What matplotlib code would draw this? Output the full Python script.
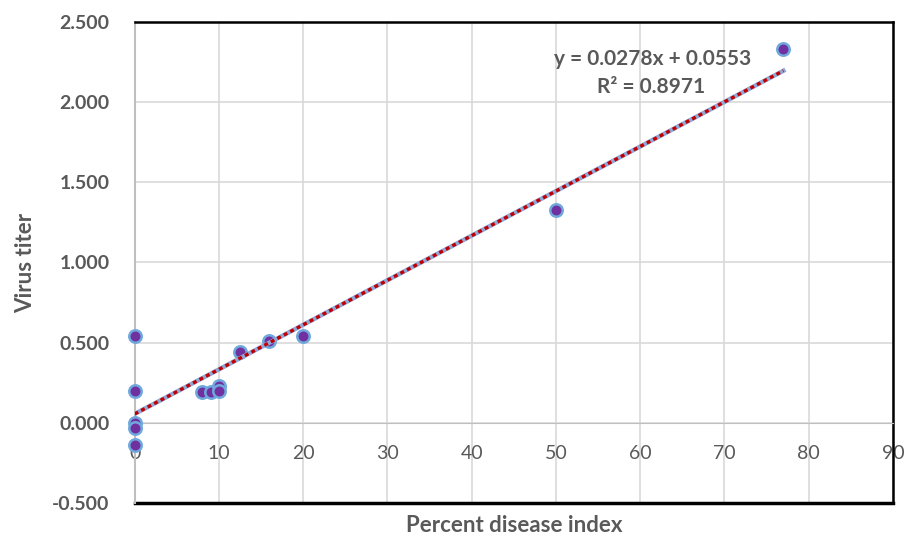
# plot.py
# Scatter of virus titer against percent disease index, with a linear trendline.

import matplotlib.pyplot as plt
import numpy as np

# data
disease_index = [0, 0, 0, 0, 0, 8, 9, 10, 10, 12.5, 16, 20, 50, 77]
virus_titer = [0.54, 0.20, 0.00, -0.03, -0.14, 0.19, 0.19, 0.23, 0.20, 0.44, 0.51, 0.54, 1.33, 2.33]

# trendline as printed on the chart
slope = 0.0278
intercept = 0.0553
r_squared = 0.8971

x_ticks = [0, 10, 20, 30, 40, 50, 60, 70, 80, 90]
y_ticks = [-0.5, 0.0, 0.5, 1.0, 1.5, 2.0, 2.5]

grey = "#595959"
plt.rcParams['font.family'] = ['Lato', 'DejaVu Sans']

fig = plt.figure(figsize=(9.07, 5.36), dpi=100)
ax = fig.add_axes([0.1485, 0.0616, 0.836, 0.8974])

# x axis crosses at zero like in Excel (set before tick labels, it resets them)
ax.spines['bottom'].set_position(('data', 0))
ax.spines['bottom'].set_color("#bfbfbf")
ax.spines['left'].set_color("#bfbfbf")
ax.spines['left'].set_linewidth(1.5)
ax.spines['top'].set_color("black")
ax.spines['top'].set_linewidth(1.8)
ax.spines['right'].set_color("black")
ax.spines['right'].set_linewidth(1.8)

ax.set_xlim(0, 90)
ax.set_ylim(-0.5, 2.5)
ax.set_xticks(x_ticks)
ax.set_yticks(y_ticks)
ax.set_yticklabels(["%.3f" % v for v in y_ticks], color=grey, fontsize=14, fontweight="bold")
ax.set_xticklabels([str(v) for v in x_ticks], color=grey, fontsize=14)
ax.tick_params(axis="y", length=0, pad=18)
ax.tick_params(axis="x", length=0, pad=16)
ax.grid(True, color="#d9d9d9", linewidth=1.2)
ax.set_axisbelow(True)

ax.axhline(-0.5, color="black", linewidth=2.5, clip_on=False)

ax.scatter(disease_index, virus_titer, s=80, color="#7030a0", edgecolors="#6fa8dc",
           linewidths=1.8, zorder=3, clip_on=False)

# trendline
xs = np.array([0, max(disease_index)])
ys = slope * xs + intercept
ax.plot(xs, ys, color="#8fa8d8", linewidth=3.2, zorder=4)
ax.plot(xs, ys, color="#c00000", linewidth=2.4, linestyle=(0, (1.2, 1.0)), zorder=5)

ax.text(61.5, 2.27, "y = %.4fx + %.4f" % (slope, intercept), ha="center", va="center",
        color=grey, fontsize=15, fontweight="bold")
ax.text(61.3, 2.095, "R² = %.4f" % r_squared, ha="center", va="center",
        color=grey, fontsize=15, fontweight="bold")

fig.text(514 / 907, 0.02, "Percent disease index", ha="center", va="center",
         color=grey, fontsize=16, fontweight="bold")
ax.set_ylabel("Virus titer", color=grey, fontsize=16, fontweight="bold")
ax.yaxis.set_label_coords(-0.13, 0.5)

fig.savefig("out.png", dpi=100)
